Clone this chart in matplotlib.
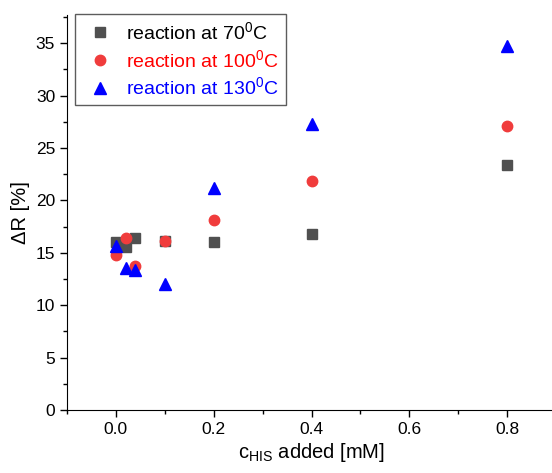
import matplotlib
matplotlib.use("Agg")
import matplotlib.pyplot as plt
from matplotlib.ticker import MultipleLocator

plt.rcParams["font.family"] = ["Liberation Sans", "DejaVu Sans"]
plt.rcParams["mathtext.fontset"] = "custom"
plt.rcParams["mathtext.rm"] = "Liberation Sans"
plt.rcParams["mathtext.it"] = "Liberation Sans"

# HIS concentration added [mM]
c_his = [0.0, 0.02, 0.04, 0.1, 0.2, 0.4, 0.8]

# Delta R [%] per reaction temperature
dr_70 = [16.0, 15.6, 16.4, 16.1, 16.0, 16.8, 23.4]
dr_100 = [14.8, 16.4, 13.7, 16.1, 18.1, 21.9, 27.1]
dr_130 = [15.7, 13.6, 13.35, 12.0, 21.2, 27.25, 34.75]

labels = ["reaction at 70$^0$C", "reaction at 100$^0$C", "reaction at 130$^0$C"]
colors = ["#505050", "#f03c3c", "#0000ff"]
text_colors = ["black", "red", "blue"]

fig = plt.figure(figsize=(5.52, 4.73), dpi=100)
ax = fig.add_axes([67 / 552, 63 / 473, 489 / 552, 395 / 473])

ax.plot(c_his, dr_70, "s", color=colors[0], markersize=6.8, linestyle="none", label=labels[0])
ax.plot(c_his, dr_100, "o", color=colors[1], markersize=7.5, linestyle="none", label=labels[1])
ax.plot(c_his, dr_130, "^", color=colors[2], markersize=8.5, linestyle="none", label=labels[2])

ax.set_xlim(-0.1, 0.9)
ax.set_ylim(0, 37.7)
ax.xaxis.set_major_locator(MultipleLocator(0.2))
ax.xaxis.set_minor_locator(MultipleLocator(0.1))
ax.yaxis.set_major_locator(MultipleLocator(5))
ax.yaxis.set_minor_locator(MultipleLocator(2.5))
ax.xaxis.set_major_formatter(plt.FuncFormatter(lambda v, p: f"{v:.1f}"))
ax.tick_params(which="major", direction="out", length=5, width=1, labelsize=12.5)
ax.tick_params(which="minor", direction="out", length=3, width=1)

ax.spines["top"].set_visible(False)
ax.spines["right"].set_visible(False)

ax.set_xlabel("c$_{\\mathrm{HIS}}$ added [mM]", fontsize=14.5, labelpad=3)
ax.set_ylabel("ΔR [%]", fontsize=14.5)

leg = ax.legend(loc="upper left", bbox_to_anchor=(0.016, 1.002), fontsize=14,
                frameon=True, fancybox=False, edgecolor="#333333",
                handletextpad=0.4, borderpad=0.35, labelspacing=0.3,
                handlelength=1.9, borderaxespad=0)
leg.get_frame().set_linewidth(1)
for txt, c in zip(leg.get_texts(), text_colors):
    txt.set_color(c)

fig.savefig("out.png", dpi=100)
